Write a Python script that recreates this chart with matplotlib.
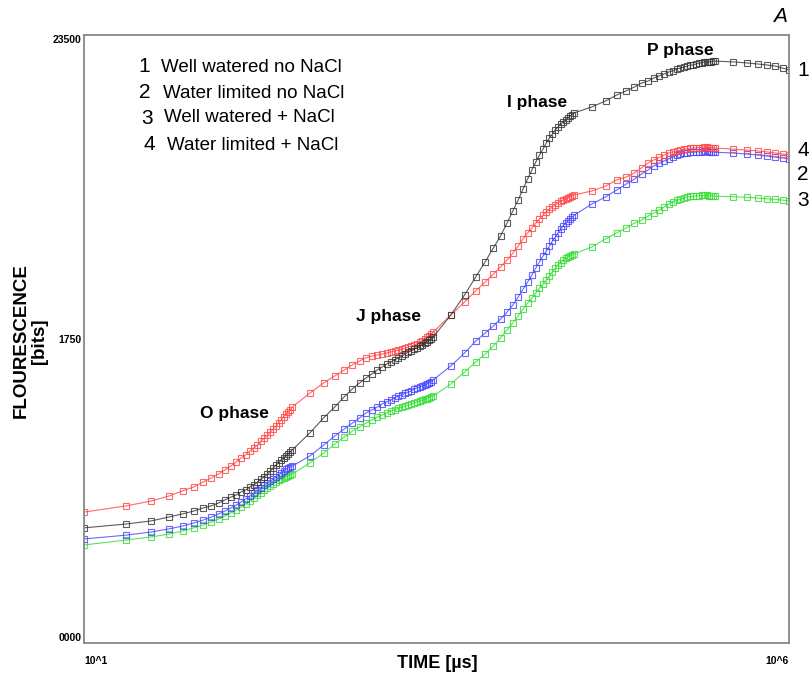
import matplotlib
matplotlib.use("Agg")
import matplotlib.pyplot as plt

plt.rcParams['font.family'] = ['Liberation Sans', 'DejaVu Sans']

# ---- data -------------------------------------------------------------
time_us = [10, 20, 30, 40, 50, 60, 70, 80, 90, 100, 110, 120, 130, 140, 150,
           160, 170, 180, 190, 200, 210, 220, 230, 240, 250, 260, 270, 280, 290, 300,
           400, 500, 600, 700, 800, 900, 1000, 1100, 1200, 1300, 1400, 1500, 1600, 1700,
           1800, 1900, 2000, 2100, 2200, 2300, 2400, 2500, 2600, 2700, 2800, 2900, 3000,
           4000, 5000, 6000, 7000, 8000, 9000, 10000, 11000, 12000, 13000, 14000, 15000,
           16000, 17000, 18000, 19000, 20000, 21000, 22000, 23000, 24000, 25000, 26000,
           27000, 28000, 29000, 30000,
           40000, 50000, 60000, 70000, 80000, 90000, 100000, 110000, 120000, 130000,
           140000, 150000, 160000, 170000, 180000, 190000, 200000, 210000, 220000, 230000,
           240000, 250000, 260000, 270000, 280000, 290000, 300000,
           400000, 500000, 600000, 700000, 800000, 900000, 1000000]

well_watered_no_nacl = [  # 1 (black)
    4450, 4600, 4720, 4870, 4990, 5100, 5220, 5300, 5410, 5530, 5640, 5720, 5840, 5910, 6030,
    6110, 6220, 6340, 6420, 6530, 6650, 6760, 6880, 6960, 7070, 7150, 7230, 7300, 7380, 7460,
    8120, 8700, 9120, 9510, 9820, 10050, 10240, 10400, 10550, 10670, 10780, 10860, 10940, 11020,
    11090, 11170, 11250, 11290, 11360, 11400, 11480, 11520, 11600, 11630, 11710, 11750, 11830,
    12680, 13450, 14150, 14730, 15270, 15730, 16230, 16700, 17120, 17550, 17930, 18280, 18590,
    18860, 19090, 19330, 19520, 19670, 19830, 19940, 20060, 20140, 20210, 20290, 20370, 20410, 20490,
    20720, 20950, 21180, 21340, 21490, 21640, 21720, 21840, 21920, 21990, 22070, 22110, 22190,
    22220, 22260, 22300, 22340, 22340, 22380, 22420, 22420, 22460, 22460, 22460, 22460, 22490, 22490,
    22460, 22420, 22380, 22340, 22300, 22220, 22150]

water_limited_no_nacl = [  # 2 (blue)
    4020, 4170, 4290, 4410, 4520, 4640, 4750, 4870, 4990, 5100, 5220, 5330, 5450, 5570, 5680,
    5800, 5910, 5990, 6110, 6180, 6260, 6340, 6420, 6490, 6570, 6650, 6730, 6760, 6800, 6840,
    7230, 7650, 8000, 8270, 8500, 8700, 8890, 9010, 9120, 9240, 9320, 9390, 9470, 9550,
    9590, 9660, 9700, 9740, 9820, 9860, 9890, 9930, 9970, 10010, 10050, 10090, 10170,
    10710, 11210, 11670, 11980, 12250, 12520, 12790, 13060, 13370, 13680, 13950, 14220, 14490,
    14730, 14960, 15150, 15340, 15540, 15690, 15850, 16000, 16120, 16230, 16310, 16390, 16470, 16540,
    16970, 17240, 17510, 17740, 17930, 18130, 18280, 18440, 18550, 18630, 18710, 18780, 18860,
    18900, 18940, 18950, 18960, 18970, 18980, 18990, 18990, 19000, 19000, 18990, 18990, 18980, 18970,
    18940, 18900, 18860, 18820, 18780, 18750, 18710]

well_watered_nacl = [  # 3 (green)
    3790, 3980, 4100, 4210, 4330, 4450, 4560, 4680, 4790, 4910, 5030, 5140, 5260, 5370, 5490,
    5600, 5720, 5800, 5910, 5990, 6070, 6150, 6220, 6300, 6340, 6380, 6420, 6460, 6490, 6530,
    6960, 7340, 7690, 7960, 8190, 8350, 8500, 8620, 8740, 8810, 8890, 8970, 9010, 9080,
    9120, 9160, 9200, 9240, 9280, 9320, 9350, 9390, 9430, 9450, 9470, 9510, 9550,
    10010, 10470, 10860, 11170, 11480, 11790, 12100, 12370, 12640, 12910, 13140, 13330, 13530,
    13720, 13880, 14030, 14190, 14340, 14490, 14610, 14690, 14800, 14880, 14920, 14960, 15000, 15040,
    15310, 15620, 15850, 16040, 16230, 16350, 16500, 16620, 16740, 16850, 16970, 17050, 17120,
    17160, 17200, 17240, 17260, 17270, 17280, 17290, 17300, 17300, 17300, 17290, 17290, 17280, 17270,
    17250, 17230, 17200, 17170, 17150, 17120, 17080]

water_limited_nacl = [  # 4 (red)
    5060, 5300, 5490, 5680, 5880, 6030, 6220, 6380, 6530, 6690, 6840, 7000, 7150, 7270, 7420,
    7540, 7650, 7810, 7920, 8040, 8160, 8270, 8390, 8500, 8620, 8740, 8850, 8930, 9010, 9120,
    9660, 10050, 10320, 10550, 10750, 10900, 11020, 11090, 11130, 11170, 11210, 11250, 11290, 11320,
    11360, 11400, 11440, 11480, 11520, 11560, 11630, 11670, 11750, 11830, 11870, 11940, 12020,
    12680, 13180, 13610, 13950, 14260, 14530, 14800, 15070, 15340, 15620, 15850, 16040, 16230,
    16390, 16540, 16660, 16770, 16850, 16930, 17010, 17080, 17120, 17160, 17200, 17240, 17280, 17320,
    17470, 17660, 17900, 18010, 18170, 18360, 18550, 18670, 18780, 18860, 18940, 18980, 19020,
    19050, 19090, 19100, 19120, 19130, 19140, 19150, 19150, 19160, 19160, 19150, 19150, 19140, 19130,
    19090, 19050, 19020, 18980, 18940, 18900, 18880]

legend_numbers = ["1", "2", "3", "4"]
legend_labels = ["Well watered no NaCl", "Water limited no NaCl",
                 "Well watered + NaCl", "Water limited + NaCl"]
phase_labels = ["O phase", "J phase", "I phase", "P phase"]
y_tick_values = [0, 11750, 23500]
y_tick_labels = ["0000", "1750", "23500"]
x_tick_values = [10, 1e6]
x_tick_labels = ["10^1", "10^6"]

# ---- figure -----------------------------------------------------------
W, H = 809, 681
fig = plt.figure(figsize=(W / 100, H / 100), dpi=100)
ax = fig.add_axes([84 / W, 1 - 643 / H, 705 / W, 608 / H])

def px(x, y):
    return x / W, 1 - y / H

series = [
    (well_watered_nacl, '#33dd33'),
    (water_limited_no_nacl, '#4444ff'),
    (water_limited_nacl, '#ff4444'),
    (well_watered_no_nacl, '#333333'),
]
for vals, col in series:
    ax.plot(time_us, vals, color=col, lw=0.8, alpha=0.8,
            marker='s', ms=4.7, mfc='none', mec=col, mew=0.8)

ax.set_xscale('log')
ax.set_xlim(10, 1e6)
ax.set_ylim(0, 23500)
ax.minorticks_off()

ax.set_yticks(y_tick_values)
ax.set_yticklabels(y_tick_labels, fontsize=7.5, fontweight='bold')
yl = ax.get_yticklabels()
yl[0].set_va('bottom')
yl[-1].set_va('top')
ax.set_xticks(x_tick_values)
ax.set_xticklabels(x_tick_labels, fontsize=7.5, fontweight='bold')
xl = ax.get_xticklabels()
xl[0].set_ha('left')
xl[-1].set_ha('right')
ax.tick_params(axis='both', length=0, pad=2)
ax.tick_params(axis='x', pad=9)

for s in ax.spines.values():
    s.set_color('#888888')
    s.set_linewidth(1.3)

# legend-like text
num_pos = [(144, 67), (145, 93), (147, 118), (149, 145)]
txt_pos = [(161, 67), (163, 93), (164, 118), (167, 145)]
for n, lab, (nx, ny), (tx, ty) in zip(legend_numbers, legend_labels, num_pos, txt_pos):
    fig.text(*px(nx, ny), n, fontsize=15, ha='center', va='center')
    fig.text(*px(tx, ty), lab, fontsize=13.5, ha='left', va='center')

# phase labels
phase_pos = [(234, 413), (388, 316), (537, 102), (680, 50)]
for lab, (x, y) in zip(phase_labels, phase_pos):
    fig.text(*px(x, y), lab, fontsize=12.5, fontweight='bold', ha='center', va='center')

# right-side curve numbers
right_nums = ["1", "4", "2", "3"]
right_pos = [(803, 70), (803, 151), (803, 175), (803, 200)]
for n, (x, y) in zip(right_nums, right_pos):
    fig.text(*px(x, y), n, fontsize=15, ha='center', va='center')

fig.text(*px(780, 17), "A", fontsize=15, style='italic', ha='center', va='center')

fig.text(*px(30, 341), "FLOURESCENCE\n[bits]", fontsize=13.5, fontweight='bold',
         rotation=90, ha='center', va='center', multialignment='center', linespacing=1.1)
fig.text(*px(437, 663), "TIME [\u00b5s]", fontsize=13, fontweight='bold',
         ha='center', va='center')

fig.savefig("out.png", dpi=100)
